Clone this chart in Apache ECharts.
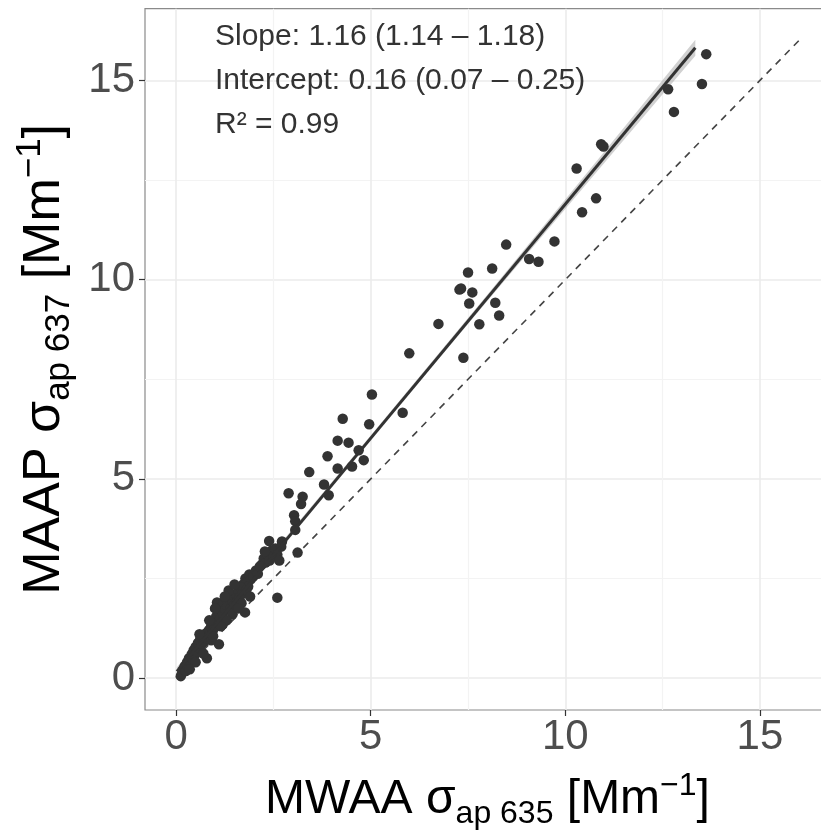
<!DOCTYPE html>
<html lang="en">
<head>
<meta charset="UTF-8">
<title>MAAP vs MWAA</title>
<script src="https://cdn.jsdelivr.net/npm/echarts@6/dist/echarts.min.js"></script>
<style>
  html, body { margin: 0; padding: 0; background: #fff; }
  #main { width: 821px; height: 834px; }
</style>
</head>
<body>
<div id="main"></div>
<script>
// MWAA sigma_ap 635 (x) and MAAP sigma_ap 637 (y)
var mwaa = [
  13.62, 13.51, 12.64, 12.79, 10.92, 10.98, 10.29, 10.79, 10.43, 9.72,
  8.48, 9.07, 9.31, 7.50, 8.12, 7.28, 7.32, 7.61, 7.53, 8.20,
  8.30, 6.74, 7.79, 5.99, 7.38, 5.03, 5.82, 4.28, 4.96, 4.15,
  4.43, 4.69, 3.89, 4.82, 4.15, 4.52, 3.42, 3.80, 3.92, 2.89,
  3.25, 3.21, 3.03, 3.06, 3.06, 2.39, 2.72, 3.12, 2.60,
  2.20, 2.25, 2.30, 2.35, 2.40, 2.45, 2.50, 2.55, 2.60, 2.65, 2.70, 2.28,
  1.72, 1.78, 1.82, 1.88, 1.92, 1.98, 1.85, 2.05, 2.10, 2.15,
  0.12, 0.15, 0.18, 0.22, 0.25, 0.28, 0.30, 0.33, 0.36, 0.40,
  0.42, 0.45, 0.48, 0.50, 0.53, 0.56, 0.60, 0.62, 0.66, 0.70,
  0.72, 0.76, 0.79, 0.80, 0.84, 0.87, 0.90, 0.94, 0.97, 1.00,
  1.03, 1.05, 1.07, 1.10, 1.10, 1.13, 1.16, 1.20, 1.22, 1.26,
  1.30, 1.33, 1.37, 1.40, 1.44, 1.47, 1.50, 1.54, 1.57, 1.60,
  1.63, 1.66, 1.68, 1.70, 1.77, 1.80, 1.90,
  0.60, 0.70, 0.90, 1.00, 1.20, 1.35, 1.45, 1.60, 1.30, 0.50,
  0.35, 0.85, 0.95, 1.15, 1.50, 1.25
];
var maap = [
  15.66, 14.91, 14.78, 14.21, 13.40, 13.34, 12.79, 12.04, 11.69, 10.96,
  10.88, 10.52, 10.45, 10.18, 10.28, 9.75, 9.78, 9.68, 9.40, 9.42,
  9.10, 8.89, 8.88, 8.15, 8.04, 7.12, 6.66, 6.51, 6.37, 5.96,
  5.91, 5.72, 5.57, 5.47, 5.26, 5.31, 5.17, 4.86, 4.59, 4.64,
  4.55, 4.37, 4.09, 3.94, 3.72, 3.44, 3.43, 3.15, 2.02,
  2.85, 3.00, 2.90, 3.10, 2.95, 3.20, 3.05, 3.25, 3.10, 2.95, 3.30, 3.18,
  2.35, 2.50, 2.42, 2.60, 2.48, 2.55, 2.30, 2.70, 2.62, 2.80,
  0.05, 0.12, 0.22, 0.30, 0.18, 0.40, 0.30, 0.50, 0.42, 0.60,
  0.48, 0.70, 0.58, 0.78, 0.66, 0.88, 0.75, 0.98, 0.86, 1.05,
  0.92, 1.12, 0.50, 1.00, 1.20, 1.08, 1.30, 1.18, 1.42, 1.28,
  1.55, 1.90, 1.40, 0.85, 1.65, 1.50, 1.78, 1.62, 1.90, 1.72,
  1.98, 1.80, 2.02, 1.75, 1.95, 2.08, 1.85, 2.10, 1.92, 2.20,
  2.02, 2.28, 1.88, 2.12, 1.65, 2.20, 2.05,
  1.10, 0.62, 0.95, 1.75, 1.35, 2.20, 1.60, 1.75, 1.45, 0.40,
  0.22, 1.45, 1.05, 1.30, 2.35, 2.05
];

// fitted regression line and its confidence band
var fitX = [0.02, 13.34];
var fitY = [0.17, 15.82];
var bandX  = [0.02, 2, 5, 8, 11, 13.34];
var bandLo = [0.07, 2.46, 5.99, 9.47, 12.93, 15.62];
var bandHi = [0.27, 2.58, 6.09, 9.63, 13.21, 16.02];

// 1:1 reference line
var refX = [0, 16];
var refY = [0, 16];

var majorTicks = [0, 5, 10, 15];
var minorTicks = [2.5, 7.5, 12.5];
var statLines = ['Slope: 1.16 (1.14 \u2013 1.18)', 'Intercept: 0.16 (0.07 \u2013 0.25)', 'R\u00b2 = 0.99'];

var FONT = '"Liberation Sans", Arial, sans-serif';

var points = mwaa.map(function (x, i) { return [x, maap[i]]; });
var fitData = fitX.map(function (x, i) { return [x, fitY[i]]; });
var refData = refX.map(function (x, i) { return [x, refY[i]]; });
var bandData = bandX.map(function (x, i) { return [x, bandLo[i], bandHi[i]]; });

var chart = echarts.init(document.getElementById('main'));

function titleRich(size) {
  var small = Math.round(size * 0.67);
  return {
    a:   { fontFamily: FONT, fontSize: size, color: '#000', lineHeight: size + 12, verticalAlign: 'middle' },
    sub: { fontFamily: FONT, fontSize: small, color: '#000', lineHeight: small - 2, verticalAlign: 'bottom' },
    sup: { fontFamily: FONT, fontSize: small, color: '#000', lineHeight: small - 2, verticalAlign: 'top' }
  };
}

function mainAxis(pos) {
  return {
    type: 'value',
    min: -0.8,
    max: 16.8,
    position: pos,
    axisLine: { show: false, onZero: false },
    axisTick: { show: true, length: 6, customValues: majorTicks, lineStyle: { color: '#333', width: 1.2 } },
    axisLabel: {
      customValues: majorTicks,
      fontFamily: FONT, fontSize: 42, color: '#4d4d4d',
      margin: pos === 'bottom' ? 6 : 10
    },
    splitLine: { show: true, lineStyle: { color: '#ebebeb', width: 1.6 } }
  };
}

function minorAxis(pos) {
  return {
    type: 'value',
    min: -0.8,
    max: 16.8,
    position: pos,
    axisLine: { show: false, onZero: false },
    axisTick: { show: false, customValues: minorTicks },
    axisLabel: { show: false, customValues: minorTicks },
    splitLine: { show: true, lineStyle: { color: '#f3f3f3', width: 1.2 } }
  };
}

var xMain = mainAxis('bottom');
xMain.name = '{a|MWAA \u03c3}{sub|ap 635}{a| [Mm}{sup|\u22121}{a|]}';
xMain.nameLocation = 'middle';
xMain.nameGap = 60;
xMain.nameTextStyle = { rich: titleRich(48) };

var yMain = mainAxis('left');
yMain.name = '{a|MAAP \u03c3}{sub|ap 637}{a| [Mm}{sup|\u22121}{a|]}';
yMain.nameLocation = 'middle';
yMain.nameGap = 68;
yMain.nameRotate = 90;
yMain.nameTextStyle = { rich: titleRich(52) };

chart.setOption({
  animation: false,
  backgroundColor: '#fff',
  grid: {
    left: 145, top: 8.7, right: -9, bottom: 124,
    containLabel: false, outerBoundsMode: 'none',
    show: true, borderColor: '#8a8a8a', borderWidth: 1.2, backgroundColor: 'transparent'
  },
  xAxis: [minorAxis('bottom'), xMain],
  yAxis: [minorAxis('left'), yMain],
  graphic: statLines.map(function (t, i) {
    return {
      type: 'text', x: 215, y: 37 + i * 44, z: 100,
      style: { text: t, font: '30px ' + FONT, fill: '#333', verticalAlign: 'middle' }
    };
  }),
  series: [
    {
      type: 'custom',
      xAxisIndex: 1, yAxisIndex: 1,
      data: bandData,
      renderItem: function (params, api) {
        if (params.dataIndex !== 0) return;
        var pts = [];
        bandData.forEach(function (d) { pts.push(api.coord([d[0], d[2]])); });
        for (var i = bandData.length - 1; i >= 0; i--) pts.push(api.coord([bandData[i][0], bandData[i][1]]));
        return { type: 'polygon', shape: { points: pts }, style: { fill: 'rgba(153,153,153,0.45)' } };
      },
      z: 2
    },
    {
      type: 'line', xAxisIndex: 1, yAxisIndex: 1,
      data: refData, symbol: 'none',
      lineStyle: { color: '#444', width: 1.6, type: [7, 6] }, z: 3
    },
    {
      type: 'scatter', xAxisIndex: 1, yAxisIndex: 1,
      data: points, symbolSize: 10.5,
      itemStyle: { color: '#333', opacity: 1 }, z: 4
    },
    {
      type: 'line', xAxisIndex: 1, yAxisIndex: 1,
      data: fitData, symbol: 'none',
      lineStyle: { color: '#333', width: 3 }, z: 5
    }
  ]
});
</script>
</body>
</html>
